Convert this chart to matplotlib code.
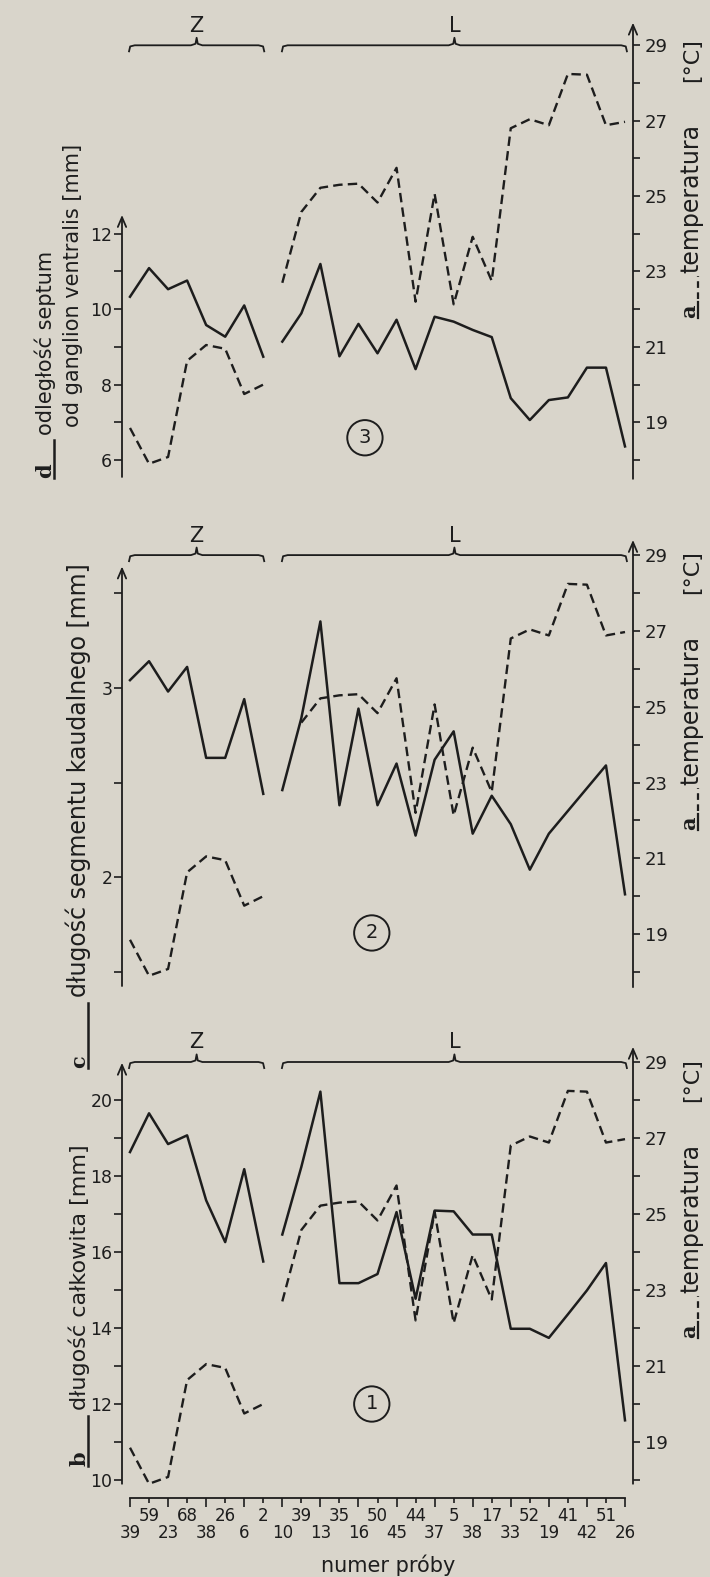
import matplotlib
matplotlib.use("Agg")
import matplotlib.pyplot as plt
from matplotlib.lines import Line2D
import numpy as np

# sample numbers along the x axis (Z group = first 8, L group = the rest)
samples = ['39', '59', '23', '68', '38', '26', '6', '2', '10', '39', '13', '35', '16', '50',
           '45', '44', '37', '5', '38', '17', '33', '52', '19', '41', '42', '51', '26']
n_z = 8

# a - temperature [deg C]
temp_z = [18.85, 17.9, 18.08, 20.63, 21.05, 20.95, 19.75, 20.0]
temp_l = [22.7, 24.58, 25.22, 25.3, 25.33, 24.83, 25.75, 22.2, 25.06, 22.13,
          23.92, 22.75, 26.8, 27.04, 26.88, 28.24, 28.22, 26.88, 26.97]

# b - total length [mm]
b_z = [18.63, 19.65, 18.84, 19.07, 17.36, 16.26, 18.18, 15.75]
b_l = [16.46, 18.24, 20.22, 15.18, 15.18, 15.42, 17.05, 14.77, 17.09, 17.07,
       16.46, 16.46, 13.98, 13.98, 13.74, 14.36, 14.99, 15.71, 11.57]

# c - caudal segment length [mm]
c_z = [3.04, 3.14, 2.98, 3.11, 2.63, 2.63, 2.94, 2.44]
c_l = [2.46, 2.84, 3.35, 2.38, 2.89, 2.38, 2.60, 2.22, 2.62, 2.77,
       2.23, 2.43, 2.28, 2.04, 2.23, 2.35, 2.47, 2.59, 1.91]

# d - septum to ganglion ventralis distance [mm]
d_z = [10.33, 11.09, 10.53, 10.76, 9.58, 9.27, 10.10, 8.74]
d_l = [9.14, 9.89, 11.20, 8.75, 9.61, 8.83, 9.72, 8.41, 9.80, 9.67,
       9.45, 9.26, 7.64, 7.06, 7.59, 7.66, 8.45, 8.45, 6.36]

temp_major = [19, 21, 23, 25, 27, 29]
temp_minor = [18, 20, 22, 24, 26, 28]

ink = '#1d1d1d'
paper = '#d9d5cb'
W, H = 710, 1577

fig = plt.figure(figsize=(W / 100, H / 100), dpi=100, facecolor=paper)


def fx(x):
    return x / W


def fy(y):
    return 1 - y / H


X_LO, X_HI = -0.42, 26.42
AX_L, AX_R = 122, 633
T_LO, T_HI = 17.3, 29.8

xz = np.arange(n_z)
xl = np.arange(n_z, len(samples))


def axis_arrow(ax, xfrac, y0, y1):
    ax.annotate('', xy=(xfrac, y1), xytext=(xfrac, y0),
                xycoords=('axes fraction', 'data'), textcoords=('axes fraction', 'data'),
                arrowprops=dict(arrowstyle='->,head_length=0.7,head_width=0.3', lw=1.3,
                                color=ink, shrinkA=0, shrinkB=0),
                annotation_clip=False)


def brace(ax, x0, x1, y, label):
    xm = (x0 + x1) / 2
    he, hm, w = 0.16, 0.2, 0.3
    xs = [x0, x0 + 0.06, x0 + w, xm - w, xm - 0.06, xm, xm + 0.06, xm + w, x1 - w, x1 - 0.06, x1]
    ys = [y - he, y - 0.03, y, y, y + 0.04, y + hm, y + 0.04, y, y, y - 0.03, y - he]
    ax.plot(xs, ys, color=ink, lw=1.3, clip_on=False)
    ax.text(xm, y + hm + 0.05, label, ha='center', va='bottom', fontsize=15, color=ink)


def rot_text(x, y, s, size, **kw):
    fig.text(fx(x), fy(y), s, rotation=90, rotation_mode='anchor', ha='left',
             va='baseline', fontsize=size, color=ink, **kw)


def fig_line(x0, y0, x1, y1, **kw):
    fig.add_artist(Line2D([fx(x0), fx(x1)], [fy(y0), fy(y1)], transform=fig.transFigure,
                          color=ink, **kw))


panels = [
    dict(y18=1480, ppd=38.0, k=1.0, off=-8.0, vz=b_z, vl=b_l,
         vmajor=[10, 12, 14, 16, 18, 20], vminor=[11, 13, 15, 17, 19],
         lbounds=(17.9, 28.98), rbounds=(17.9, 29.4), tstart=0, circ=(12.7, 20.0, '1')),
    dict(y18=972, ppd=37.9, k=0.2, off=-2.1, vz=c_z, vl=c_l,
         vmajor=[2, 3], vminor=[1.5, 2.5, 3.5],
         lbounds=(17.63, 28.7), rbounds=(17.6, 29.4), tstart=1, circ=(12.7, 19.03, '2')),
    dict(y18=460, ppd=37.7, k=1.0, off=-12.0, vz=d_z, vl=d_l,
         vmajor=[6, 8, 10, 12], vminor=[7, 9, 11],
         lbounds=(17.55, 24.5), rbounds=(17.5, 29.6), tstart=0, circ=(12.34, 18.59, '3')),
]

axes = []
for p in panels:
    bot_px = p['y18'] + (18 - T_LO) * p['ppd']
    top_px = p['y18'] - (T_HI - 18) * p['ppd']
    ax = fig.add_axes([fx(AX_L), fy(bot_px), (AX_R - AX_L) / W, (bot_px - top_px) / H])
    ax.patch.set_visible(False)
    axt = ax.twinx()
    k, off = p['k'], p['off']
    ax.set_xlim(X_LO, X_HI)
    ax.set_ylim(k * T_LO + off, k * T_HI + off)
    axt.set_ylim(T_LO, T_HI)
    for s in ax.spines.values():
        s.set_visible(False)
    for s in axt.spines.values():
        s.set_visible(False)

    # data
    ax.plot(xz, p['vz'], color=ink, lw=1.8)
    ax.plot(xl, p['vl'], color=ink, lw=1.8)
    axt.plot(xz, temp_z, color=ink, lw=1.7, ls=(0, (4, 2.2)))
    ts = p['tstart']
    axt.plot(xl[ts:], temp_l[ts:], color=ink, lw=1.7, ls=(0, (4, 2.2)))

    # left axis
    ax.set_yticks(p['vmajor'], labels=['{:g}'.format(v) for v in p['vmajor']])
    ax.set_yticks(p['vminor'], minor=True)
    ax.tick_params(axis='y', which='both', direction='out', length=5.5, width=1.2,
                   color=ink, labelcolor=ink, labelsize=12.5, pad=1.5)
    lb0, lb1 = p['lbounds']
    axis_arrow(ax, 0, k * lb0 + off, k * lb1 + off)

    # right temperature axis
    axt.set_yticks(temp_major, labels=[str(v) for v in temp_major])
    axt.set_yticks(temp_minor, minor=True)
    axt.tick_params(axis='y', which='both', direction='out', length=5, width=1.2,
                    color=ink, labelcolor=ink, labelsize=13, pad=3.5)
    axis_arrow(axt, 1, p['rbounds'][0], p['rbounds'][1])

    # group braces
    brace(axt, -0.05, n_z - 1 + 0.05, 29.0, 'Z')
    brace(axt, n_z - 0.02, len(samples) - 1 + 0.1, 29.0, 'L')

    cx, cy, cl = p['circ']
    axt.text(cx, cy, cl, ha='center', va='center', fontsize=14, color=ink,
             bbox=dict(boxstyle='circle,pad=0.42', fc='none', ec=ink, lw=1.4))

    ax.xaxis.set_visible(False)
    axes.append((ax, axt))

# bottom sample axis on the lowest panel
ax1, _ = axes[0]
ax1.xaxis.set_visible(True)
ax1.spines['bottom'].set_visible(True)
ax1.spines['bottom'].set_position(('data', 17.53 - 8))
ax1.spines['bottom'].set_bounds(0, len(samples) - 1)
ax1.spines['bottom'].set_linewidth(1.3)
ax1.spines['bottom'].set_color(ink)
ax1.set_xticks(np.arange(0, len(samples), 2), labels=samples[0::2])
ax1.set_xticks(np.arange(1, len(samples), 2), labels=samples[1::2], minor=True)
ax1.tick_params(axis='x', which='major', direction='out', length=6.5, width=1.2,
                color=ink, labelcolor=ink, labelsize=12, pad=12)
ax1.tick_params(axis='x', which='minor', direction='out', length=3.6, width=1.2,
                color=ink, labelcolor=ink, labelsize=12, pad=3)
fig.text(fx(388), fy(1565), 'numer próby', ha='center', va='center', fontsize=15, color=ink)

# left axis titles
left_titles = [
    ('b', 86, 1466, 1416, [(86, 1410, 'długość całkowita [mm]')], 16),
    ('c', 86, 1068, 1003, [(86, 997, 'długość segmentu kaudalnego [mm]')], 17),
    ('d', 52, 478, 440, [(52, 435, 'odległość septum'), (79, 427, 'od ganglion ventralis [mm]')], 15),
]
for letter, bx, ly0, ly1, lines, size in left_titles:
    rot_text(bx - 1, ly0, letter, 15, family='DejaVu Serif', fontweight='bold')
    fig_line(bx + 2, ly0, bx + 2, ly1, lw=1.8)
    for tx, ty, s in lines:
        rot_text(tx, ty, s, size)

# right axis titles (temperature), same layout on every panel
for p in panels:
    dy = p['y18'] - panels[0]['y18']
    rot_text(695, 1338 + dy, 'a', 15, family='DejaVu Serif', fontweight='bold')
    fig_line(698, 1338 + dy, 698, 1322 + dy, lw=1.6)
    fig_line(698, 1319 + dy, 698, 1296 + dy, lw=1.6, ls=(0, (3, 2)))
    rot_text(698, 1293 + dy, 'temperatura', 17)
    rot_text(698, 1102 + dy, '[°C]', 16)

fig.savefig('out.png', dpi=100, facecolor=paper)
